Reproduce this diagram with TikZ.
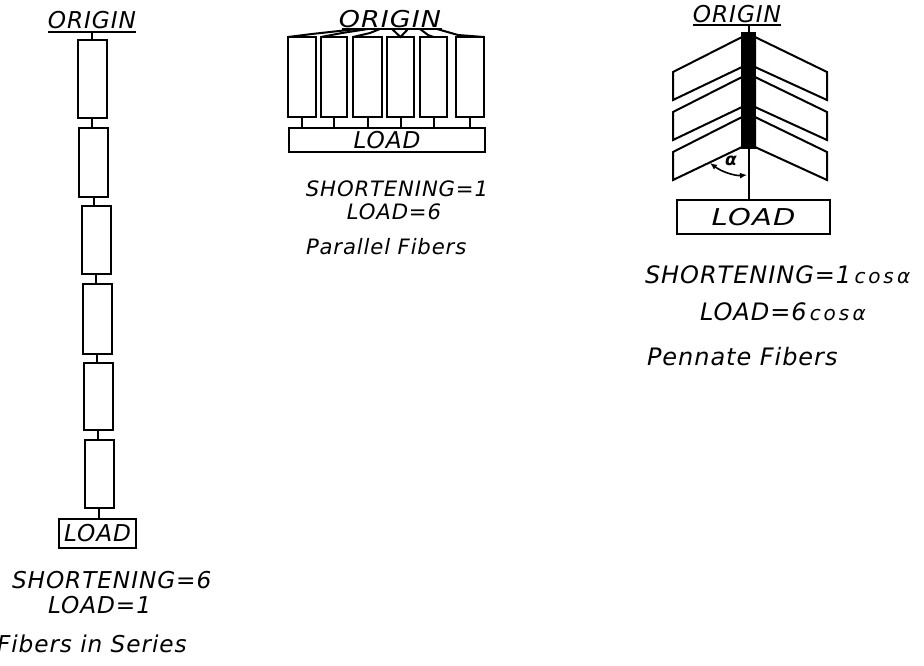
\documentclass[tikz,border=0pt]{standalone}
\usepackage{graphicx}
\usepackage{fontspec}
\setmainfont{DejaVu Sans}
\newfontfamily\lettering{DejaVu Sans}[LetterSpace=4]
\usetikzlibrary{arrows.meta}
% small lowercase "cos alpha" set after a load or shortening value
\newcommand{\cosalpha}{{\fontsize{10}{11}\selectfont\addfontfeatures{LetterSpace=14}\,cos\,α}}

\begin{document}
\begin{tikzpicture}[x=0.5pt,y=-0.5pt,line width=1pt,
  txt/.style={inner sep=0pt,outer sep=0pt,font=\lettering\itshape\fontsize{11.6}{14}\selectfont},
  ptxt/.style={inner sep=0pt,outer sep=0pt,font=\lettering\itshape\fontsize{10.6}{13}\selectfont},
  ntxt/.style={inner sep=0pt,outer sep=0pt,font=\lettering\itshape\fontsize{12}{14}\selectfont},
  fiber/.style={draw,inner sep=0pt,outer sep=0pt,minimum width=14.5pt},
  loadbox/.style={draw,inner sep=0pt,outer sep=0pt},
  chevron/.style={draw,fill=white,line join=miter},
  link/.style={line width=1pt}]
\useasboundingbox (0,0) rectangle (924,665);

% ---------- fibers in series ----------
\node[txt,anchor=base] (so) at (92,28) {ORIGIN};
\draw ([yshift=-2pt]so.base west) -- ([yshift=-2pt]so.base east);
\coordinate (sou) at (92,32);
\node[fiber,minimum height=39pt]   (s1) at (92,79) {};
\node[fiber,minimum height=34.5pt] (s2) at (93.5,162.5) {};
\node[fiber,minimum height=34pt]   (s3) at (96,240) {};
\node[fiber,minimum height=35pt]   (s4) at (97,319) {};
\node[fiber,minimum height=33.5pt] (s5) at (98,396.5) {};
\node[fiber,minimum height=34pt]   (s6) at (99,474) {};
\node[loadbox,txt,minimum width=38.5pt,minimum height=14.5pt] (sl) at (97.5,533.5) {LOAD};
\draw[link] (sou) -- (s1.north);
\draw[link] (s1.south) -- (s1.south |- s2.north);
\draw[link] (s2.south) -- (s2.south |- s3.north);
\draw[link] (s3.south) -- (s3.south |- s4.north);
\draw[link] (s4.south) -- (s4.south |- s5.north);
\draw[link] (s5.south) -- (s5.south |- s6.north);
\draw[link] (s6.south) -- (s6.south |- sl.north);
\node[txt,anchor=base west] (sshort) at (12,588) {SHORTENING=6};
\node[txt,anchor=base west] (sload) at (48,613) {LOAD=1};
\node[txt,anchor=base west] (sname) at (-3,652) {Fibers in Series};

% ---------- parallel fibers ----------
\node[txt,anchor=base] (po) at (390,27) {\scalebox{1.16}[1]{ORIGIN}};
\draw (342,29) -- (442,29);
\node[fiber,minimum height=40pt,minimum width=14pt]   (p1) at (302,77) {};
\node[fiber,minimum height=40pt,minimum width=13pt]   (p2) at (334,77) {};
\node[fiber,minimum height=40pt,minimum width=14.5pt] (p3) at (367.5,77) {};
\node[fiber,minimum height=40pt,minimum width=13.5pt] (p4) at (400.5,77) {};
\node[fiber,minimum height=40pt,minimum width=13.5pt] (p5) at (433.5,77) {};
\node[fiber,minimum height=40pt,minimum width=14pt]   (p6) at (470,77) {};
\node[loadbox,txt,minimum width=98pt,minimum height=12pt] (pl) at (387,140) {LOAD};
\coordinate (f1) at (357,29);
\coordinate (f2) at (368,29);
\coordinate (f3) at (380,29);
\coordinate (f4a) at (392,29);
\coordinate (f4b) at (408,29);
\coordinate (f5) at (420,29);
\coordinate (f6) at (437,29);
\draw[link] (f1) -- (312,34) -- (p1.north west);
\draw[link] (f2) -- (342,33) -- (p2.north west);
\draw[link] (f3) -- (370,33) -- (p3.north west);
\draw[link] (f4a) -- (p4.north) -- (f4b);
\draw[link] (f5) -- (428,35) -- (p5.north);
\draw[link] (f6) -- (458,35) -- (p6.north east);
\foreach \i in {1,...,6}
  \draw[link] (p\i.south) -- (p\i.south |- pl.north);
\node[ptxt,anchor=base] (pshort) at (397,196) {SHORTENING=1};
\node[ptxt,anchor=base] (pload) at (394,219) {LOAD=6};
\node[ptxt,anchor=base west] (pname) at (306,254) {Parallel Fibers};

% ---------- pennate fibers ----------
\node[txt,anchor=base] (no) at (737,22) {ORIGIN};
\draw ([yshift=-1.5pt]no.base west) -- ([yshift=-1.5pt]no.base east);
\coordinate (nou) at (748.5,25);
\foreach \y in {37,77,117} {
  \draw[chevron] (742,\y) -- (673,\y+35) -- (673,\y+63) -- (742,\y+30) -- cycle;
  \draw[chevron] (755,\y) -- (827,\y+35) -- (827,\y+63) -- (755,\y+30) -- cycle;
}
\node[draw,fill=black,inner sep=0pt,outer sep=0pt,minimum width=6.5pt,minimum height=57.5pt] (nb) at (748.5,90.5) {};
\node[loadbox,txt,minimum width=76.5pt,minimum height=17pt] (nl) at (753.5,217) {\scalebox{1.25}[1]{LOAD}};
\draw[link] (nou) -- (nb.north);
\draw[link] (nb.south) -- (nb.south |- nl.north);
\draw[line width=0.8pt,{Latex[length=3.5pt,width=3pt]}-{Latex[length=3.5pt,width=3pt]}]
  (710,163) .. controls (722,172) and (735,176) .. (747,175);
\node[inner sep=0pt,font=\bfseries\itshape\fontsize{8.5}{9}\selectfont] (alpha) at (731,161) {α};
\node[ntxt,anchor=base west] (nshort) at (645,283) {SHORTENING=1\cosalpha};
\node[ntxt,anchor=base west] (nload) at (700,320) {LOAD=6\cosalpha};
\node[ntxt,anchor=base west] (nname) at (647,365) {Pennate Fibers};
\end{tikzpicture}
\end{document}
